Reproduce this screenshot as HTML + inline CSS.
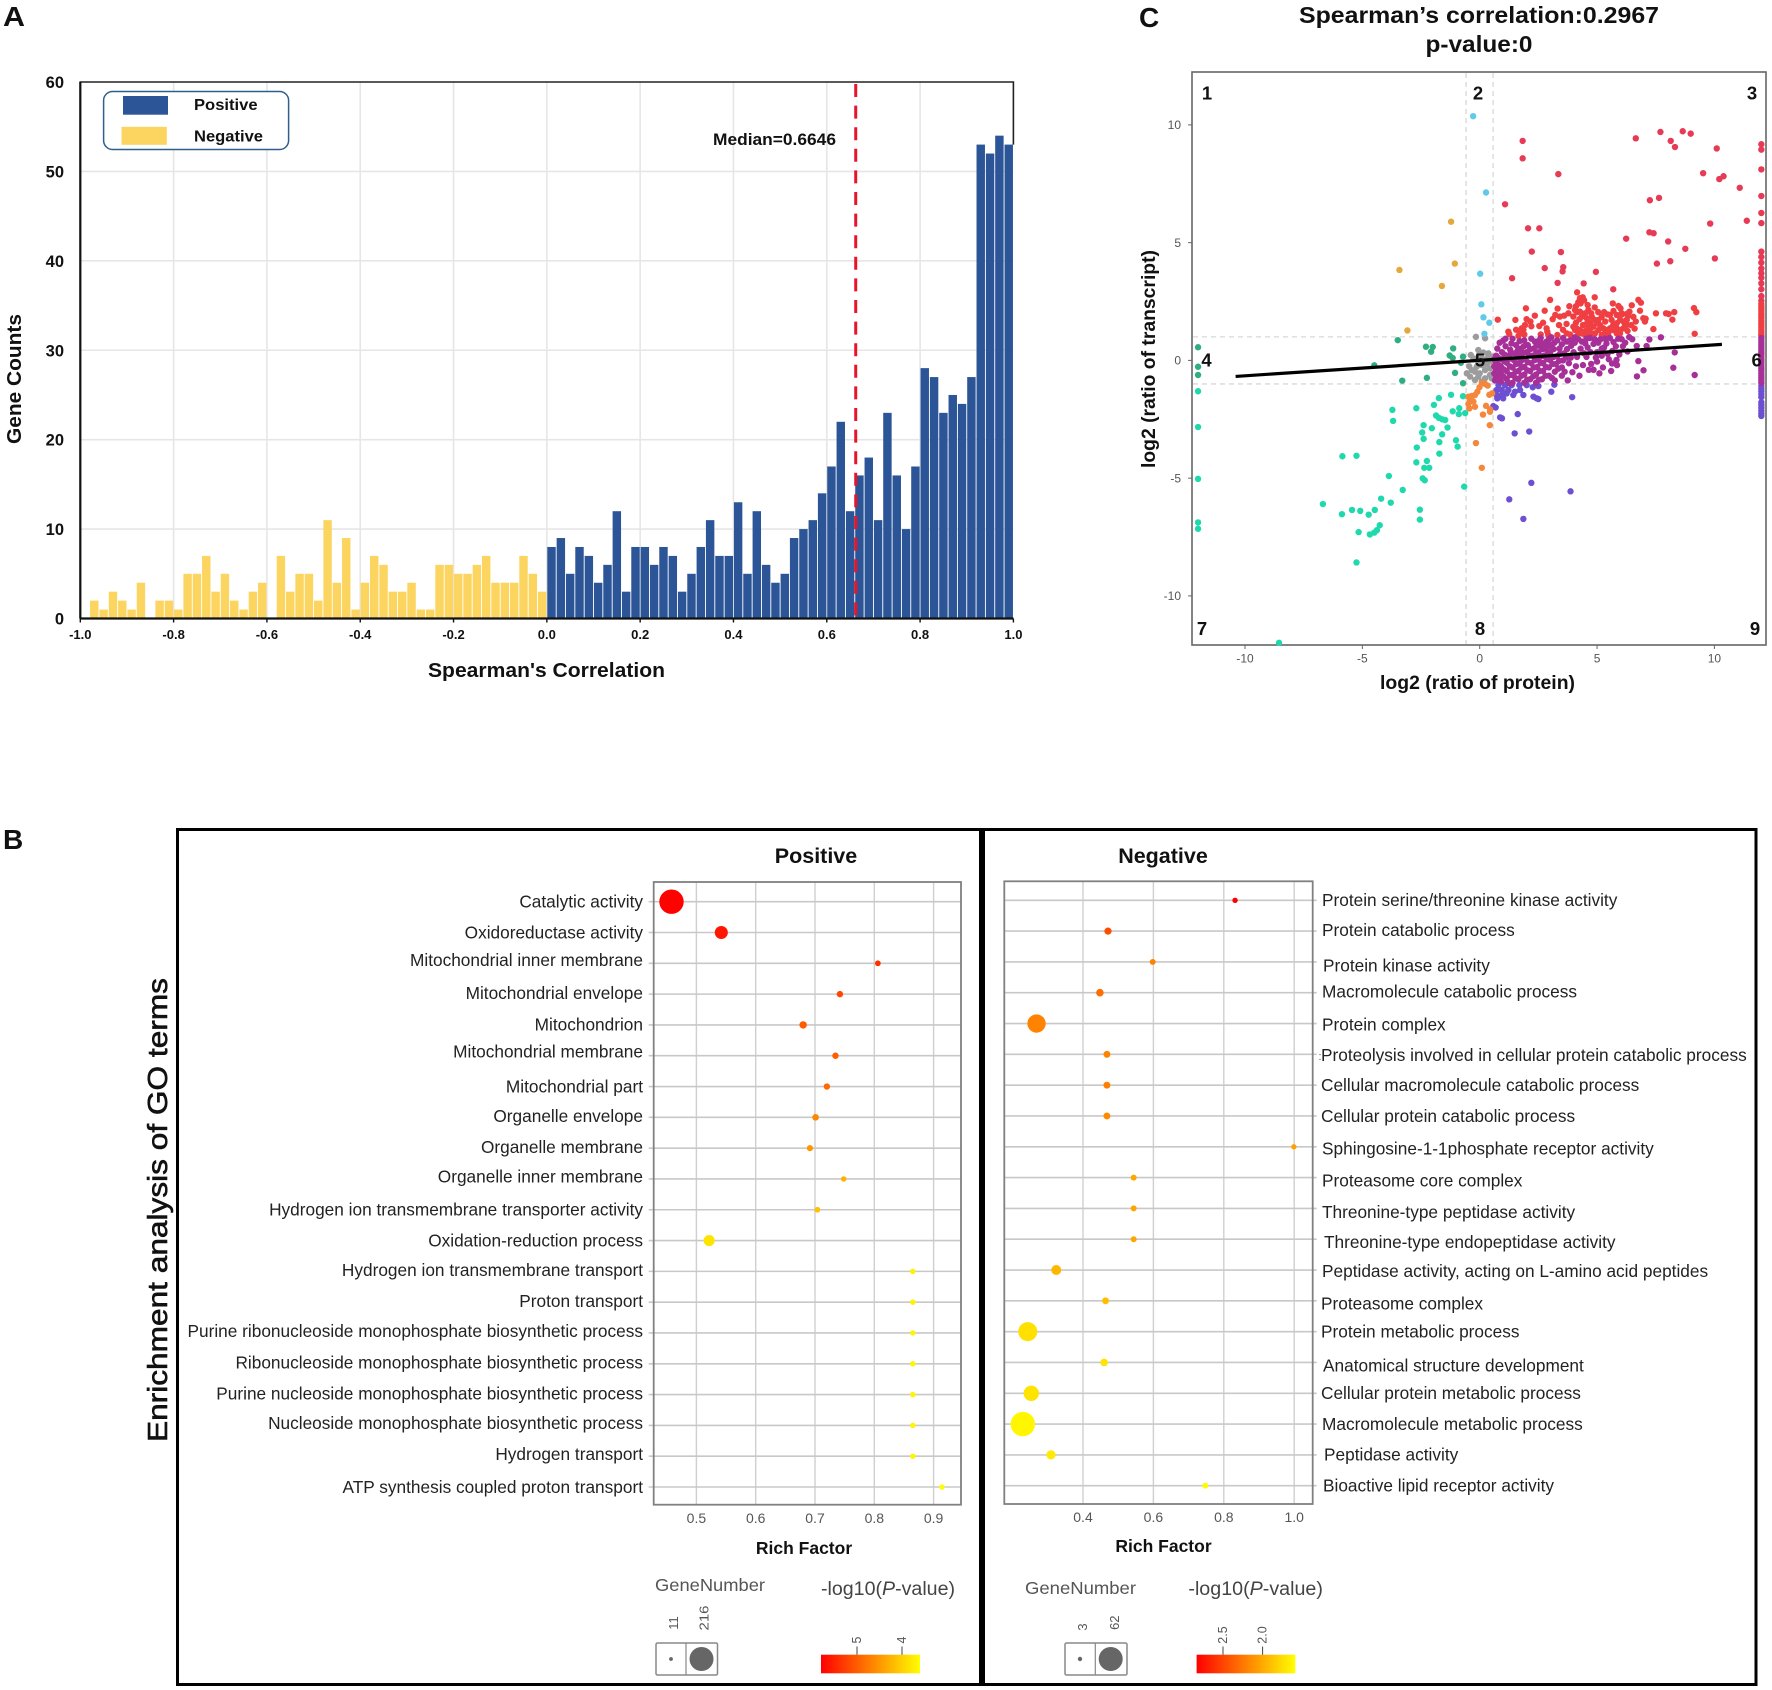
<!DOCTYPE html>
<html lang="en">
<head>
<meta charset="utf-8">
<title>Protein-transcript correlation figure</title>
<style>
html,body{margin:0;padding:0;background:#fff;width:1772px;height:1690px;overflow:hidden}
svg{display:block}
text{font-family:"Liberation Sans",Arial,sans-serif}
.b{font-weight:bold;fill:#111}
.term{font-size:17.25px;fill:#222}
.tk{font-size:14px;fill:#555}
.ck{font-size:12px;fill:#555}
.leg{fill:#555}
</style>
</head>
<body>
<svg id="fig" xmlns="http://www.w3.org/2000/svg" width="1772" height="1690" viewBox="0 0 1772 1690">
<defs>
<linearGradient id="heat" x1="0" x2="1" y1="0" y2="0"><stop offset="0" stop-color="#ff0000"/><stop offset="1" stop-color="#ffff00"/></linearGradient>
</defs>
<rect width="1772" height="1690" fill="#fff"/>

<!-- Panel letters -->
<text class="b" x="3" y="26" font-size="28" textLength="22" lengthAdjust="spacingAndGlyphs">A</text>
<text class="b" x="3" y="849" font-size="28">B</text>
<text class="b" x="1139" y="27" font-size="28">C</text>

<!-- Panel A -->
<g id="panelA"></g>
<text class="b" x="21" y="379" font-size="20.5" text-anchor="middle" textLength="130" lengthAdjust="spacingAndGlyphs" transform="rotate(-90 21 379)">Gene Counts</text>
<text class="b" x="546.5" y="677" font-size="20.5" text-anchor="middle" textLength="237" lengthAdjust="spacingAndGlyphs">Spearman's Correlation</text>
<text class="b" x="713" y="145" font-size="17" textLength="123" lengthAdjust="spacingAndGlyphs">Median=0.6646</text>
<g>
<rect x="103.6" y="91.5" width="185" height="58" rx="9" fill="#fff" stroke="#2f5f8a" stroke-width="1.5"/>
<rect x="123" y="96" width="45" height="18.7" fill="#2b5596"/>
<rect x="121.5" y="126.8" width="45.3" height="18" fill="#fbd55f"/>
<text class="b" x="194" y="110" font-size="16" textLength="63.6" lengthAdjust="spacingAndGlyphs">Positive</text>
<text class="b" x="194" y="141.5" font-size="16" textLength="69" lengthAdjust="spacingAndGlyphs">Negative</text>
</g>

<!-- Panel C -->
<g id="panelC"></g>
<text class="b" x="1479" y="23" font-size="23" text-anchor="middle" textLength="360" lengthAdjust="spacingAndGlyphs">Spearman’s correlation:0.2967</text>
<text class="b" x="1479" y="52" font-size="23" text-anchor="middle" textLength="107" lengthAdjust="spacingAndGlyphs">p-value:0</text>
<text class="b" x="1477.5" y="689" font-size="19" text-anchor="middle" textLength="195" lengthAdjust="spacingAndGlyphs">log2 (ratio of protein)</text>
<text class="b" x="1155" y="359" font-size="19" text-anchor="middle" textLength="218" lengthAdjust="spacingAndGlyphs" transform="rotate(-90 1155 359)">log2 (ratio of transcript)</text>

<!-- Panel B -->
<rect x="177.5" y="829.5" width="803" height="855" fill="none" stroke="#000" stroke-width="3"/>
<rect x="983.5" y="829.5" width="772.5" height="855" fill="none" stroke="#000" stroke-width="3"/>
<text x="167" y="1210" font-size="28" text-anchor="middle" fill="#111" stroke="#111" stroke-width="0.6" textLength="464" lengthAdjust="spacingAndGlyphs" transform="rotate(-90 167 1210)">Enrichment analysis of GO terms</text>
<text class="b" x="816" y="863" font-size="21.5" text-anchor="middle">Positive</text>
<text class="b" x="1163" y="863" font-size="21.5" text-anchor="middle">Negative</text>
<g id="panelBpos"></g>
<g id="panelBneg"></g>
<text class="b" x="804" y="1554" font-size="17.5" text-anchor="middle">Rich Factor</text>
<text class="b" x="1163.5" y="1552" font-size="17.5" text-anchor="middle">Rich Factor</text>
<text x="1318.5" y="1060" font-size="11" fill="#555">:</text>

<!-- Positive legends -->
<g>
<text class="leg" x="655" y="1591" font-size="17.5" textLength="110" lengthAdjust="spacingAndGlyphs">GeneNumber</text>
<text class="leg" x="678" y="1623" font-size="13" text-anchor="middle" transform="rotate(-90 678 1623)">11</text>
<text class="leg" x="708.5" y="1618" font-size="13" text-anchor="middle" textLength="25" lengthAdjust="spacingAndGlyphs" transform="rotate(-90 708.5 1618)">216</text>
<rect x="656" y="1643" width="61.5" height="32" rx="1.5" fill="#fff" stroke="#888" stroke-width="1.5"/>
<line x1="686" x2="686" y1="1643" y2="1675" stroke="#888" stroke-width="1.2"/>
<circle cx="671" cy="1659" r="1.9" fill="#666"/>
<circle cx="701.5" cy="1659" r="12" fill="#666"/>
</g>
<g>
<text x="821" y="1595" font-size="19" fill="#444" textLength="134" lengthAdjust="spacingAndGlyphs">-log10(<tspan font-style="italic">P</tspan>-value)</text>
<rect x="821" y="1654.7" width="99" height="18.6" fill="url(#heat)"/>
<line x1="857" x2="857" y1="1646.5" y2="1654.7" stroke="#444" stroke-width="1"/>
<line x1="902" x2="902" y1="1646.5" y2="1654.7" stroke="#444" stroke-width="1"/>
<text class="leg" x="861" y="1640" font-size="12.5" text-anchor="middle" transform="rotate(-90 861 1640)">5</text>
<text class="leg" x="906" y="1640" font-size="12.5" text-anchor="middle" transform="rotate(-90 906 1640)">4</text>
</g>

<!-- Negative legends -->
<g>
<text class="leg" x="1025" y="1594" font-size="17.5" textLength="111" lengthAdjust="spacingAndGlyphs">GeneNumber</text>
<text class="leg" x="1087" y="1627" font-size="13" text-anchor="middle" transform="rotate(-90 1087 1627)">3</text>
<text class="leg" x="1119" y="1622.7" font-size="13" text-anchor="middle" transform="rotate(-90 1119 1622.7)">62</text>
<rect x="1065" y="1643" width="62" height="32" rx="1.5" fill="#fff" stroke="#888" stroke-width="1.5"/>
<line x1="1095.3" x2="1095.3" y1="1643" y2="1675" stroke="#888" stroke-width="1.2"/>
<circle cx="1080" cy="1659" r="2.2" fill="#666"/>
<circle cx="1110.7" cy="1659" r="12" fill="#666"/>
</g>
<g>
<text x="1188.4" y="1595" font-size="19" fill="#444" textLength="134.5" lengthAdjust="spacingAndGlyphs">-log10(<tspan font-style="italic">P</tspan>-value)</text>
<rect x="1196.6" y="1654.7" width="98.7" height="18.6" fill="url(#heat)"/>
<line x1="1223" x2="1223" y1="1646.5" y2="1654.7" stroke="#444" stroke-width="1"/>
<line x1="1262.6" x2="1262.6" y1="1646.5" y2="1654.7" stroke="#444" stroke-width="1"/>
<text class="leg" x="1227" y="1635" font-size="12.5" text-anchor="middle" transform="rotate(-90 1227 1635)">2.5</text>
<text class="leg" x="1266.6" y="1635" font-size="12.5" text-anchor="middle" transform="rotate(-90 1266.6 1635)">2.0</text>
</g>

<script>
/* ===== Panel A data ===== */
const histXTicks = [-1.0,-0.8,-0.6,-0.4,-0.2,0.0,0.2,0.4,0.6,0.8,1.0];
const histYTicks = [0,10,20,30,40,50,60];
const negativeCounts = [0,2,1,3,2,1,4,0,2,2,1,5,5,7,3,5,2,1,3,4,0,7,3,5,5,2,11,4,9,1,4,7,6,3,3,4,1,1,6,6,5,5,6,7,4,4,4,7,5,3];
const positiveCounts = [8,9,5,8,7,4,6,12,3,8,8,6,8,7,3,5,8,11,7,7,13,5,12,6,4,5,9,10,11,14,17,22,12,16,18,11,23,16,10,17,28,27,23,25,24,27,53,52,54,53];
const medianValue = 0.6646;

/* ===== Panel C data: [log2 protein ratio, log2 transcript ratio] ===== */
const scatterXTicks = [-10,-5,0,5,10];
const scatterYTicks = [10,5,0,-5,-10];
const regressionEnds = [[-10.4,-0.68],[10.32,0.68]];
const region1Points = [[-1.22,5.89],[-1.06,4.11],[-3.42,3.84],[-1.61,3.16],[-3.08,1.27]];
const region2Points = [[-0.28,10.37],[0.27,7.13],[0.02,3.68],[0.07,2.38],[0.16,1.83],[0.41,1.6],[0.2,1.13]];
const region3SparsePoints = [[1.83,9.32],[1.83,8.58],[3.35,7.91],[1.08,6.63],[2.06,5.61],[2.54,5.61],[2.22,4.62],[3.46,4.6],[2.77,3.92],[3.56,3.96],[3.53,3.78],[1.38,3.49],[3.32,3.29],[4.43,3.27],[4.95,3.76],[5.69,3.02],[6.65,9.43],[7.7,9.7],[8.14,9.32],[8.32,9.06],[8.65,9.73],[8.99,9.63],[10.1,9.0],[9.52,7.95],[10.21,7.7],[10.39,7.82],[11.08,7.33],[7.25,6.8],[7.64,6.9],[7.23,5.44],[7.41,5.4],[6.24,5.17],[8.03,5.05],[8.76,4.74],[7.55,4.11],[8.12,4.21],[10.02,4.33],[9.82,5.81],[11.38,5.93],
[12,9.18],[12,8.95],[12,8.11],[12,6.98],[12,6.26],[12,5.83],[12,4.62],[12,4.39],[12,4.15],[12,3.9],[12,3.7],[12,3.51],[12,3.27],[12,3.02],[12,2.73],[12,2.53]];
const region3ClusterPoints = [[4.15,2.89],[4.27,2.64],[4.39,2.68],[4.2,2.47],[4.3,2.42],[3.0,2.57],[4.9,2.68],[1.97,2.21],[3.82,2.3],[5.67,2.42],[5.91,2.31],[6.0,2.21],[6.48,2.34],[6.76,2.57],[6.87,2.45],[2.77,2.11],[3.32,2.2],[3.78,2.0],[4.06,2.14],[4.27,2.07],[4.63,2.14],[4.49,2.0],[3.99,1.86],[4.35,1.86],[4.56,1.79],[0.77,1.73],[1.52,1.72],[3.22,1.93],[3.11,1.75],[3.42,1.86],[3.38,1.5],[2.16,1.65],[1.93,1.5],[1.79,1.36],[2.54,1.46],[1.22,1.22],[1.26,1.12],[1.86,1.29],[1.72,1.15],[1.65,1.04],[2.85,1.36],[2.88,1.22],[2.92,1.08],[3.31,1.08],[5.55,1.93],[5.84,1.93],[6.05,2.0],[6.38,2.07],[6.33,1.89],[6.83,2.11],[6.97,1.79],[6.65,1.65],[7.04,1.65],[7.51,2.0],[7.94,2.0],[8.05,1.97],[8.29,2.05],[8.21,1.73],[7.4,1.33],[9.13,2.22],[9.23,2.05],[9.16,1.13],[7.07,1.77],[6.26,1.97],[6.26,1.71],[6.19,1.46],
[3.99,1.43],[4.13,1.36],[4.27,1.29],[4.42,1.22],[4.56,1.29],[4.7,1.36],[4.84,1.43],[4.98,1.58],[4.91,1.72],[5.06,1.72],[5.13,1.5],[5.06,1.29],[4.91,1.15],[4.77,1.15],[4.63,1.08],[4.49,1.08],[4.35,1.15],[4.2,1.15],[4.06,1.29],[5.27,1.36],[5.41,1.29],[5.55,1.36],[5.69,1.29],[5.84,1.36],[5.98,1.29],[6.12,1.36],[6.26,1.5],[6.12,1.65],[5.98,1.72],[5.84,1.58],[5.69,1.5],[5.62,1.72],[6.26,1.72],[5.48,1.15],[5.34,1.15],[5.2,1.08],[5.84,1.15],[5.98,1.15],
[4.1,1.6],[4.25,1.75],[4.4,1.5],[4.55,1.55],[4.7,1.6],[4.78,1.85],[4.6,2.35],[4.45,2.55],[4.1,2.3],[4.15,2.05],[3.7,1.55],[3.6,1.9],[3.55,1.3],[3.7,1.15],[3.85,1.1],[5.2,1.85],[5.35,1.65],[5.45,1.95],[5.3,2.05],[5.7,2.1],[6.3,1.25],[6.45,1.5],[6.05,1.95],[6.55,1.85],[2.6,1.1],[2.7,1.6],[2.2,1.45],[2.0,1.75],[1.55,1.3],[1.9,1.1],[2.35,1.9],[4.9,2.25],[5.05,2.05],[4.75,2.0],[6.6,1.35],
[12,2.4],[12,2.3],[12,2.2],[12,2.1],[12,2.0],[12,1.9],[12,1.8],[12,1.7],[12,1.6],[12,1.5],[12,1.4],[12,1.3],[12,1.2],[12,1.1],[12,1.05]];
const region4Points = [[-12,0.56],[-12,-0.27],[-12,-0.62],[-3.49,0.86],[-2.29,0.58],[-2.0,0.57],[-2.07,0.37],[-1.13,0.51],[-1.28,0.21],[-1.15,0.1],[-0.71,0.16],[-4.49,-0.21],[-1.05,-0.53],[-2.25,-0.74],[-3.3,-0.86],[-0.71,-0.97],[-0.8,-0.1]];
const region5Points = [[-0.16,1.0],[0.23,0.94],[-0.06,0.44],[-0.38,0.23],[-0.27,0.09],[0,0.23],[0.16,0.33],[0.37,0.3],[0.51,0.16],[0.23,0.02],[0.44,-0.05],[0.09,-0.2],[-0.13,-0.27],[-0.34,-0.41],[-0.55,-0.55],[-0.41,-0.69],[-0.2,-0.48],[0,-0.55],[0.23,-0.41],[0.44,-0.34],[0.44,-0.62],[0.23,-0.76],[-0.2,-0.83],[-0.06,-0.69],[0.51,-0.76],[0.09,-0.9],[-0.1,0.1],[0.1,0.08],[0.3,-0.15],[-0.05,-0.1],[-0.45,-0.25],[0.35,0.12]];
const region6Points = [[0.7,-0.1],[0.7,-0.4],[0.7,-0.7],[0.7,0.2],[0.75,0.5],[0.9,-0.9],[0.9,-0.55],[0.9,-0.25],[0.9,0.05],[0.95,0.35],[1.0,0.84],[1.1,0.6],[1.15,-0.8],[1.15,-0.45],[1.15,-0.1],[1.2,0.2],[1.3,0.45],[1.4,0.92],[1.4,-0.95],[1.4,-0.62],[1.4,-0.3],[1.45,0.02],[1.5,0.3],[1.55,0.65],[1.65,-0.8],[1.65,-0.45],[1.7,-0.12],[1.7,0.18],[1.75,0.5],[1.9,0.85],[1.9,-0.95],[1.9,-0.6],[1.9,-0.28],[1.95,0.05],[2.0,0.35],[2.05,0.65],[2.15,-0.8],[2.15,-0.45],[2.2,-0.12],[2.25,0.2],[2.3,0.5],[2.35,0.8],[2.4,-0.95],[2.4,-0.6],[2.45,-0.28],[2.5,0.05],[2.5,0.35],[2.55,0.62],[2.6,0.95],[2.65,-0.8],[2.7,-0.45],[2.7,-0.12],[2.75,0.2],[2.8,0.5],[2.85,0.8],[2.95,-0.65],[2.95,-0.3],[3.0,0.02],[3.0,0.35],[3.05,0.65],[3.05,0.98],[3.2,-0.85],[3.2,-0.48],[3.25,-0.15],[3.3,0.18],[3.3,0.85],[3.4,0.5],[3.5,-0.65],[3.5,-0.3],[3.55,0],[3.6,0.3],[3.7,0.8],[3.75,-0.85],[3.8,-0.12],[3.85,0.85],[3.95,-0.5],[4.0,0.35],[4.05,0.75],[4.05,0.98],[4.25,-0.65],[4.3,0.5],[4.35,0.8],[4.4,-0.2],[4.55,0.15],[4.6,0.55],[4.7,0.95],[4.75,-0.15],[4.85,-0.4],[5.0,0.35],[5.0,-0.05],[5.05,0.75],[5.1,-0.55],[5.2,0.2],[5.25,-0.3],[5.3,0.55],[5.35,0.92],[5.5,0.05],[5.6,-0.45],[5.65,0.4],[5.7,0.78],[5.85,-0.2],[5.95,0.25],[6.05,0.9],[6.1,0.6],[6.3,0.38],[6.5,0.9],[6.37,0.99],[7.23,0.89],[7.72,0.98],[6.69,0.61],[7.11,0.61],[8.31,0.34],[5.83,0.02],[5.64,-0.13],[6.76,-0.03],[8.25,-0.31],[6.98,-0.42],[6.7,-0.68],[9.16,-0.62],
[0.62,0.05],[0.62,-0.25],[0.62,-0.55],[0.65,-0.85],[0.8,0.1],[0.8,-0.2],[0.8,-0.48],[0.8,-0.78],[0.85,0.75],[1.0,-0.68],[1.02,-0.38],[1.03,-0.02],[1.05,0.25],[1.1,0.92],[1.27,-0.97],[1.28,-0.62],[1.28,-0.25],[1.3,0.08],[1.35,0.3],[1.35,0.72],[1.52,-0.75],[1.53,-0.48],[1.55,-0.15],[1.58,0.12],[1.62,0.42],[1.7,0.82],[1.78,-0.65],[1.78,-0.3],[1.8,0.02],[1.85,0.32],[1.88,0.6],[2.02,-0.82],[2.03,-0.42],[2.05,-0.08],[2.1,0.22],[2.15,0.48],[2.2,0.92],[2.28,-0.68],[2.3,-0.3],[2.35,0.02],[2.4,0.28],[2.42,0.62],[2.5,0.82],[2.52,-0.82],[2.55,-0.45],[2.6,-0.1],[2.63,0.18],[2.68,0.48],[2.72,0.72],[2.8,-0.65],[2.82,-0.28],[2.85,0.05],[2.9,0.32],[2.93,0.6],[2.95,0.9],[3.08,-0.75],[3.1,-0.15],[3.15,0.15],[3.15,0.48],[3.18,0.75],[3.35,-0.35],[3.38,-0.02],[3.42,0.28],[3.5,0.68],[3.55,0.95],[3.62,-0.48],[3.68,0.12],[3.72,0.48],[3.88,0.12],[3.9,0.62],[4.1,-0.25],[4.15,0.15],[4.2,0.9],[4.45,0.3],[4.5,0.72],[4.55,0.92],[4.65,-0.4],[4.72,0.35],[4.85,0.7],[4.9,0.9],[4.95,0.12],[5.15,0.9],[5.2,0.5],[5.4,0.72],[5.45,0.28],[5.55,0.95],[5.8,0.6],[5.9,0.92],[6.2,0.75],
[12,0.95],[12,0.85],[12,0.75],[12,0.65],[12,0.55],[12,0.45],[12,0.35],[12,0.25],[12,0.15],[12,0.05],[12,-0.05],[12,-0.15],[12,-0.25],[12,-0.35],[12,-0.45],[12,-0.55],[12,-0.65],[12,-0.75],[12,-0.85],[12,-0.95]];
const region7Points = [[-12,-1.31],[-12,-2.83],[-12,-5.03],[-12,-6.88],[-12,-7.15],[-1.22,-1.46],[-0.71,-1.52],[-1.74,-1.6],[-1.95,-1.89],[-2.7,-2.03],[-0.87,-2.03],[-1.15,-2.16],[-0.89,-2.28],[-0.62,-2.24],[-3.72,-2.1],[-3.69,-2.57],[-1.86,-2.34],[-1.74,-2.44],[-1.6,-2.5],[-1.47,-2.53],[-2.39,-2.75],[-2.04,-2.88],[-1.37,-2.85],[-2.45,-3.06],[-1.6,-3.14],[-2.39,-3.33],[-1.72,-3.47],[-1.01,-3.39],[-0.94,-3.66],[-2.68,-3.7],[-1.72,-3.96],[-5.85,-4.07],[-5.25,-4.05],[-2.7,-4.33],[-2.25,-4.27],[-2.36,-4.56],[-2.15,-4.56],[-3.87,-4.91],[-2.43,-5.01],[-2.34,-5.09],[-0.66,-5.36],[-3.28,-5.5],[-4.2,-5.87],[-3.79,-6.04],[-6.68,-6.1],[-5.87,-6.53],[-5.44,-6.35],[-5.09,-6.39],[-4.73,-6.55],[-4.47,-6.35],[-2.55,-6.34],[-2.55,-6.76],[-4.26,-7.0],[-5.16,-7.29],[-4.68,-7.39],[-4.49,-7.31],[-4.38,-7.21],[-5.25,-8.58],[-8.55,-11.99]];
const region8Points = [[-0.16,-3.51],[0.09,-4.56],[0.43,-2.75],[0.14,-2.3],[0.44,-2.18],[0.27,-1.93],[0.41,-1.46],[0.53,-1.4],[0.34,-1.07],[0.23,-1.0],[0.09,-0.97],[-0.01,-1.14],[-0.1,-1.33],[-0.2,-1.47],[-0.34,-1.51],[-0.48,-1.54],[-0.41,-1.68],[-0.48,-1.85],[-0.44,-2.04],[-0.2,-1.97],[-0.27,-1.75],[0.44,-2.08]];
const region9Points = [[0.8,-1.05],[1.08,-1.05],[1.36,-1.05],[1.69,-1.05],[2,-1.05],[0.72,-1.26],[0.94,-1.26],[1.22,-1.26],[1.5,-1.33],[1.72,-1.26],[0.72,-1.47],[0.94,-1.47],[1.15,-1.4],[1.43,-1.47],[1.86,-1.47],[0.75,-1.61],[1,-1.61],[2.26,-1.14],[2.5,-1.09],[3.18,-1.03],[3.05,-1.33],[2.29,-1.54],[2.43,-1.61],[2.5,-1.64],[0.58,-1.94],[0.68,-2],[1.62,-2.28],[0.87,-2.42],[0.95,-2.46],[1.49,-3.1],[2.11,-3.02],[1.26,-5.9],[2.2,-5.2],[3.87,-5.56],[1.86,-6.73],[3.94,-1.56],
[12,-1.08],[12,-1.2],[12,-1.32],[12,-1.44],[12,-1.56],[12,-1.78],[12,-1.9],[12,-2.02],[12,-2.14],[12,-2.26],[12,-2.36]];

/* ===== Panel B data ===== */
const positiveTerms = ["Catalytic activity","Oxidoreductase activity","Mitochondrial inner membrane","Mitochondrial envelope","Mitochondrion","Mitochondrial membrane","Mitochondrial part","Organelle envelope","Organelle membrane","Organelle inner membrane","Hydrogen ion transmembrane transporter activity","Oxidation-reduction process","Hydrogen ion transmembrane transport","Proton transport","Purine ribonucleoside monophosphate biosynthetic process","Ribonucleoside monophosphate biosynthetic process","Purine nucleoside monophosphate biosynthetic process","Nucleoside monophosphate biosynthetic process","Hydrogen transport","ATP synthesis coupled proton transport"];
const positiveRichFactor = [0.458,0.542,0.806,0.742,0.68,0.7345,0.72,0.701,0.6915,0.7484,0.704,0.5215,0.865,0.865,0.865,0.865,0.865,0.865,0.865,0.914];
const positiveGeneNumber = [216,62,12,15,20,15,15,16,14,11,12,45,11,11,11,11,11,11,11,11];
const positiveLogP = [5.8,5.62,5.4,5.2,5.02,5.0,4.9,4.65,4.5,4.3,4.15,3.85,3.72,3.72,3.7,3.7,3.7,3.7,3.7,3.62];
const positiveXTicks = [0.5,0.6,0.7,0.8,0.9];
const negativeTerms = ["Protein serine/threonine kinase activity","Protein catabolic process","Protein kinase activity","Macromolecule catabolic process","Protein complex","Proteolysis involved in cellular protein catabolic process","Cellular macromolecule catabolic process","Cellular protein catabolic process","Sphingosine-1-1phosphate receptor activity","Proteasome core complex","Threonine-type peptidase activity","Threonine-type endopeptidase activity","Peptidase activity, acting on L-amino acid peptides","Proteasome complex","Protein metabolic process","Anatomical structure development","Cellular protein metabolic process","Macromolecule metabolic process","Peptidase activity","Bioactive lipid receptor activity"];
const negativeRichFactor = [0.832,0.471,0.598,0.448,0.268,0.468,0.468,0.468,0.999,0.544,0.544,0.544,0.324,0.464,0.243,0.46,0.253,0.229,0.309,0.7475];
const negativeGeneNumber = [3,5.4,3.7,6,35,5,5,5,3,3.7,3.7,3.7,10.4,5,37.6,6,24.6,62,8.8,3.7];
const negativeLogP = [2.84,2.46,2.2,2.3,2.2,2.2,2.22,2.16,2.06,2.03,2.03,2.03,1.94,1.9,1.74,1.72,1.72,1.63,1.69,1.6];
const negativeXTicks = [0.4,0.6,0.8,1.0];

/* layout-only nudges for hand-placed row labels */
const positiveLabelNudge = [0,0,-3,-1,0,-4,0,-1,-1,-2,0,0,-1,-1,-2,-1,-1,-2,-2,0];
const negativeLabelNudge = [0,-1,4,-1,1,1,0,0,2,3,4,3,1,3,0,3,0,0,0,0];
const negativeLabelIndent = [1,1,2,1,1,0,0,0,1,1,1,3,1,0,0,2,0,1,3,2];

const NS = "http://www.w3.org/2000/svg";
function mk(parent, tag, attrs, txt) {
  const el = document.createElementNS(NS, tag);
  for (const k in attrs) el.setAttribute(k, attrs[k]);
  if (txt !== undefined) el.textContent = txt;
  parent.appendChild(el);
  return el;
}
function heat(t) {
  t = Math.max(0, Math.min(1, t));
  return "rgb(255," + Math.round(255 * t) + ",0)";
}

/* ---------- Panel A ---------- */
(function () {
  const g = document.getElementById("panelA");
  const L = 80.3, R = 1013.4, T = 82, B = 618.5;
  const xA = v => (L + R) / 2 + v * (R - L) / 2;
  const yA = v => B - v * (B - T) / 60;
  histYTicks.forEach(v => {
    if (v > 0 && v < 60) {
      const el = mk(g, "line", {x1: L, x2: R, y1: yA(v), y2: yA(v), stroke: "#e6e6e6", "stroke-width": 1.6});
      
      
    }
    const t = mk(g, "text", {x: 64, y: yA(v) + 6, "text-anchor": "end", "font-size": 16.5, class: "b"}, String(v));
    
    
  });
  histXTicks.forEach(v => {
    if (v > -1 && v < 1) {
      const el = mk(g, "line", {x1: xA(v), x2: xA(v), y1: T, y2: B, stroke: "#e6e6e6", "stroke-width": 1.6});
      
      
    }
  });
  const w = (R - L) / 100;
  negativeCounts.forEach((c, i) => {
    const el = mk(g, "rect", {x: xA(-1 + i * 0.02) + 0.45, y: yA(c), width: w - 0.9, height: B - yA(c), fill: "#fbd55f"});
    
    
  });
  positiveCounts.forEach((c, i) => {
    const el = mk(g, "rect", {x: xA(i * 0.02) + 0.45, y: yA(c), width: w - 0.9, height: B - yA(c), fill: "#2b5596"});
    
    
  });
  const frame = mk(g, "path", {d: "M" + L + " " + B + "V" + T + "H" + R + "V" + yA(53), fill: "none", stroke: "#222", "stroke-width": 1.6});
  
  
  const left = mk(g, "line", {x1: L, x2: L, y1: T, y2: B, stroke: "#111", "stroke-width": 2.2});
  
  
  const base = mk(g, "line", {x1: L, x2: R, y1: B, y2: B, stroke: "#111", "stroke-width": 2.2});
  
  
  histXTicks.forEach(v => {
    const tk = mk(g, "line", {x1: xA(v), x2: xA(v), y1: B, y2: B + 4, stroke: "#111", "stroke-width": 1.4});
    
    
    const t = mk(g, "text", {x: xA(v), y: 639, "text-anchor": "middle", "font-size": 13, class: "b"}, v.toFixed(1));
    
    
  });
  const med = mk(g, "line", {x1: xA(medianValue) - 1.2, x2: xA(medianValue) - 1.2, y1: 84, y2: B - 1, stroke: "#e8142a", "stroke-width": 3, "stroke-dasharray": "13 8.6"});
  
  
})();

/* ---------- Panel C ---------- */
(function () {
  const g = document.getElementById("panelC");
  const xC = v => 1479.7 + v * 23.47;
  const yC = v => 360.4 - v * 23.55;
  const frame = mk(g, "rect", {x: 1192, y: 72, width: 574, height: 573, fill: "#fff", stroke: "#666", "stroke-width": 1.6});
  
  
  [-0.58, 0.57].forEach(v => {
    const el = mk(g, "line", {x1: xC(v), x2: xC(v), y1: 73, y2: 644, stroke: "#d8d8d8", "stroke-width": 1.3, "stroke-dasharray": "5 4"});
    
    
  });
  [-1, 1].forEach(v => {
    const el = mk(g, "line", {x1: 1193, x2: 1765, y1: yC(v), y2: yC(v), stroke: "#d8d8d8", "stroke-width": 1.3, "stroke-dasharray": "5 4"});
    
    
  });
  scatterXTicks.forEach(v => {
    const tk = mk(g, "line", {x1: xC(v), x2: xC(v), y1: 645, y2: 649, stroke: "#666", "stroke-width": 1});
    
    
    const t = mk(g, "text", {x: xC(v), y: 662.5, "text-anchor": "middle", class: "ck"}, String(v));
    
    
  });
  scatterYTicks.forEach(v => {
    const tk = mk(g, "line", {x1: 1188, x2: 1192, y1: yC(v), y2: yC(v), stroke: "#666", "stroke-width": 1});
    
    
    const t = mk(g, "text", {x: 1181, y: yC(v) + 4.3, "text-anchor": "end", class: "ck"}, String(v));
    
    
  });
  const series = [
    [region5Points, "#9c9c9c"], [region4Points, "#2fae80"], [region7Points, "#1fd9ad"],
    [region1Points, "#e4a83c"], [region2Points, "#5fcbe8"], [region3SparsePoints, "#e63a55"],
    [region3ClusterPoints, "#f03f42"], [region9Points, "#6d4fd2"], [region8Points, "#f5873c"],
    [region6Points, "#a62f98"]
  ];
  series.forEach(s => {
    s[0].forEach(p => {
      const c = mk(g, "circle", {cx: xC(p[0]), cy: yC(p[1]), r: 3.2, fill: s[1]});
      
      
    });
  });
  const reg = mk(g, "line", {x1: xC(regressionEnds[0][0]), y1: yC(regressionEnds[0][1]), x2: xC(regressionEnds[1][0]), y2: yC(regressionEnds[1][1]), stroke: "#000", "stroke-width": 3.2});
  
  
  const labels = [["1",1207,93],["2",1478,93],["3",1752,93],["4",1206.5,360],["5",1480,360],["6",1756.6,360],["7",1202,628.5],["8",1480,628.5],["9",1755,628.5]];
  labels.forEach(l => {
    const t = mk(g, "text", {x: l[1], y: l[2] + 6.7, "text-anchor": "middle", "font-size": 18.5, class: "b"}, l[0]);
    
    
  });
})();

/* ---------- Panel B ---------- */
function dotPlot(gid, opt) {
  const g = document.getElementById(gid);
  const n = opt.terms.length;
  const yB = i => opt.y0 + i * (opt.y1 - opt.y0) / (n - 1);
  opt.xTicks.forEach(v => {
    const el = mk(g, "line", {x1: opt.x(v), x2: opt.x(v), y1: opt.top, y2: opt.bottom, stroke: "#cfcfcf", "stroke-width": 1.4});
    
    
    const t = mk(g, "text", {x: opt.x(v), y: opt.tickY, "text-anchor": "middle", class: "tk"}, v.toFixed(1));
    
    
  });
  opt.terms.forEach((term, i) => {
    const ln = mk(g, "line", {x1: opt.left - (opt.side === "left" ? 5 : 0), x2: opt.right + (opt.side === "right" ? 4 : 0), y1: yB(i), y2: yB(i), stroke: "#c8c8c8", "stroke-width": 1.6});
    
    
    const t = mk(g, "text", {x: opt.labelX + (opt.indent ? opt.indent[i] : 0), y: yB(i) + opt.nudge[i] + 5.8, "text-anchor": opt.side === "left" ? "end" : "start", class: "term"}, term);
    
    
  });
  const frame = mk(g, "rect", {x: opt.left, y: opt.top, width: opt.right - opt.left, height: opt.bottom - opt.top, fill: "none", stroke: "#808080", "stroke-width": 1.8});
  
  
  opt.rich.forEach((v, i) => {
    const r = Math.sqrt(opt.genes[i] / opt.maxGenes) * 12.2;
    const c = mk(g, "circle", {cx: opt.x(v), cy: yB(i), r: r, fill: heat(opt.color(opt.logp[i]))});
    
    
  });
}
dotPlot("panelBpos", {
  terms: positiveTerms, rich: positiveRichFactor, genes: positiveGeneNumber, logp: positiveLogP, xTicks: positiveXTicks,
  nudge: positiveLabelNudge, maxGenes: 216, side: "left", labelX: 643,
  left: 653.7, right: 961, top: 882, bottom: 1504.7, y0: 901.7, y1: 1487, tickY: 1523,
  x: v => 696.4 + (v - 0.5) * 593,
  color: v => 0.37 + (5 - v) * 0.455
});
dotPlot("panelBneg", {
  terms: negativeTerms, rich: negativeRichFactor, genes: negativeGeneNumber, logp: negativeLogP, xTicks: negativeXTicks,
  nudge: negativeLabelNudge, indent: negativeLabelIndent, maxGenes: 62, side: "right", labelX: 1321,
  left: 1004.3, right: 1312.7, top: 881.3, bottom: 1504, y0: 900.3, y1: 1485.7, tickY: 1522,
  x: v => 1083 + (v - 0.4) * 352,
  color: v => 0.27 + (2.5 - v) * 0.8
});
</script>
</svg>
</body>
</html>
